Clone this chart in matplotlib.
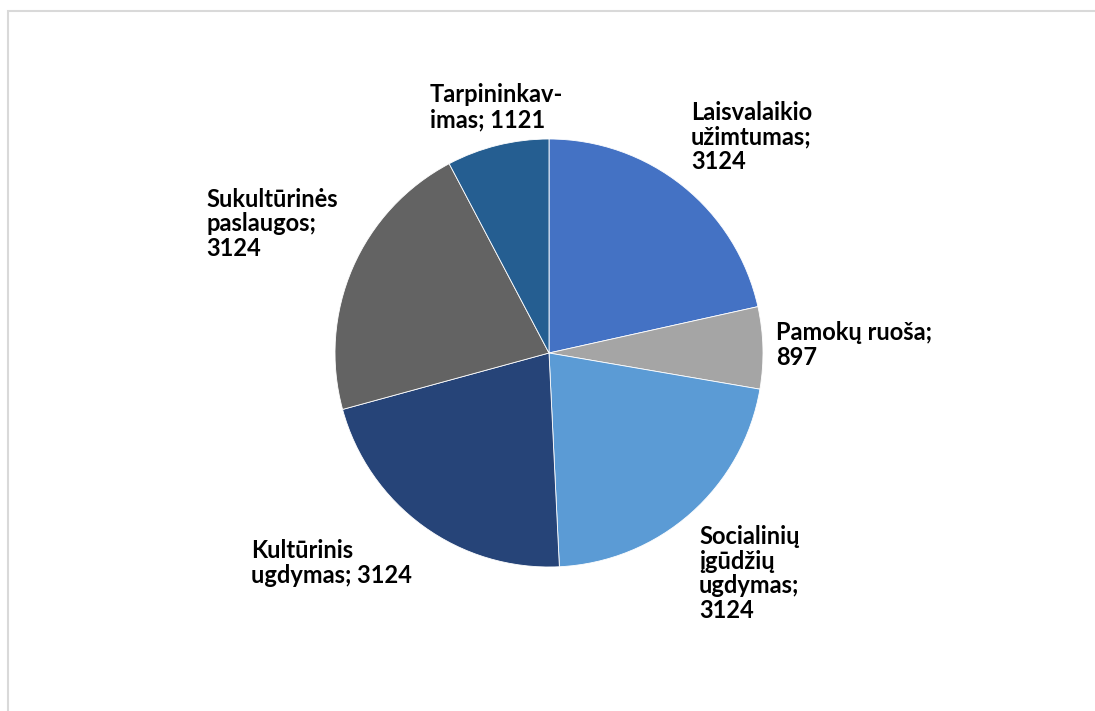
"""
Pie chart of activity hours (Lithuanian labels), Excel style.
"""

import matplotlib
matplotlib.use('Agg')
import matplotlib.pyplot as plt
from matplotlib.patches import Rectangle

plt.rcParams['font.family'] = ['Lato', 'DejaVu Sans']

# Data -------------------------------------------------------------------------

labels = ['Laisvalaikio\nužimtumas;\n3124',
          'Pamokų ruoša;\n897',
          'Socialinių\nįgūdžių\nugdymas;\n3124',
          'Kultūrinis\nugdymas; 3124',
          'Sukultūrinės\npaslaugos;\n3124',
          'Tarpininkav-\nimas; 1121']
values = [3124, 897, 3124, 3124, 3124, 1121]
colors = ['#4472C4', '#A5A5A5', '#5B9BD5', '#264478', '#636363', '#255E91']

# label anchors (left edge, baseline of last line) in pixels from top-left
lab_px = [(691, 169), (776, 365), (699, 618), (251, 583), (206, 256), (430, 127)]

# Figure -----------------------------------------------------------------------

W, H = 1095, 711
fig = plt.figure(figsize=(W / 100, H / 100), dpi=100)

# light chart frame
fig.patches.append(Rectangle((8 / W, -0.05), 1.2, (H - 11) / H + 0.05,
                             transform=fig.transFigure, fill=False,
                             edgecolor='#D9D9D9', linewidth=1.5))

cx, cy, r = 549, 353, 214
ax = fig.add_axes([(cx - r) / W, (H - cy - r) / H, 2 * r / W, 2 * r / H])
ax.pie(values, colors=colors, startangle=90, counterclock=False, radius=1,
       wedgeprops=dict(edgecolor='white', linewidth=0.6))
ax.set_xlim(-1, 1)
ax.set_ylim(-1, 1)
ax.set_aspect('equal')
ax.axis('off')

for lab, (x, y) in zip(labels, lab_px):
    fig.text(x / W, 1 - y / H, lab, ha='left', va='baseline',
             fontsize=17, fontweight='bold', color='#000000',
             linespacing=1.08, multialignment='left')

fig.savefig('out.png', dpi=100)
